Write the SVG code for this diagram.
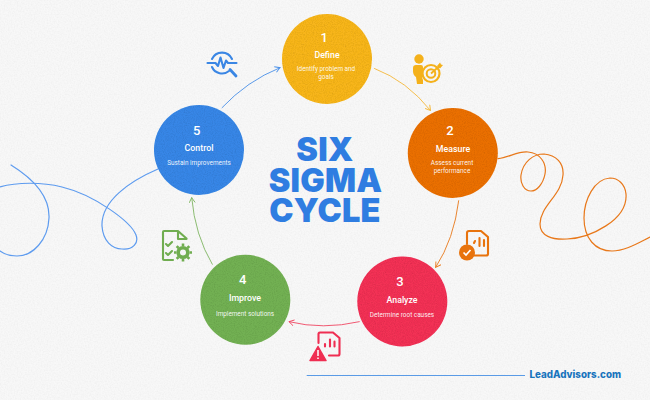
<svg xmlns="http://www.w3.org/2000/svg" width="650" height="400" viewBox="0 0 650 400">
<defs>
<style>
.num{font:500 13px Roboto,"Liberation Sans",sans-serif;fill:#fff;text-anchor:middle}
.name{font:500 8.800px Roboto,"Liberation Sans",sans-serif;fill:#fff;text-anchor:middle}
.desc{font:400 6.400px Roboto,"Liberation Sans",sans-serif;fill:#fff;text-anchor:middle;fill-opacity:.92}
.title{font:900 32.500px Inter,"Liberation Sans",sans-serif;fill:#2f7de1;text-anchor:middle;letter-spacing:.2px}
.c{fill:none;stroke-width:.9;stroke-linecap:round}
.sq{fill:none;stroke-width:1.200;stroke-linecap:round}
.ic{fill:none;stroke-width:2.100;stroke-linecap:round;stroke-linejoin:round}
</style>
<filter id="grain" x="0" y="0" width="100%" height="100%"><feTurbulence type="fractalNoise" baseFrequency="0.9" numOctaves="2" seed="4"/><feColorMatrix values="0 0 0 0 0 0 0 0 0 0 0 0 0 0 0 0 0 0 .4 -.17"/><feComposite in2="SourceGraphic" operator="in"/><feMerge><feMergeNode in="SourceGraphic"/><feMergeNode/></feMerge></filter>
<filter id="paper" x="0" y="0" width="100%" height="100%"><feTurbulence type="fractalNoise" baseFrequency="0.7" numOctaves="2" seed="9"/><feColorMatrix values="0 0 0 0 0 0 0 0 0 0 0 0 0 0 0 0 0 0 .12 -.04"/><feComposite in2="SourceGraphic" operator="in"/><feMerge><feMergeNode in="SourceGraphic"/><feMergeNode/></feMerge></filter>
<marker id="ay" markerWidth="8" markerHeight="8" refX="6" refY="3.5" orient="auto" markerUnits="userSpaceOnUse"><path d="M1,.5 L6,3.5 L1,6.5" fill="none" stroke="#f5b83a" stroke-width=".9"/></marker>
<marker id="ao" markerWidth="8" markerHeight="8" refX="6" refY="3.5" orient="auto" markerUnits="userSpaceOnUse"><path d="M1,.5 L6,3.5 L1,6.5" fill="none" stroke="#e8781a" stroke-width=".9"/></marker>
<marker id="ar" markerWidth="8" markerHeight="8" refX="6" refY="3.5" orient="auto" markerUnits="userSpaceOnUse"><path d="M1,.5 L6,3.5 L1,6.5" fill="none" stroke="#ef4763" stroke-width=".9"/></marker>
<marker id="ag" markerWidth="8" markerHeight="8" refX="6" refY="3.5" orient="auto" markerUnits="userSpaceOnUse"><path d="M1,.5 L6,3.5 L1,6.5" fill="none" stroke="#7fb562" stroke-width=".9"/></marker>
<marker id="ab" markerWidth="8" markerHeight="8" refX="6" refY="3.5" orient="auto" markerUnits="userSpaceOnUse"><path d="M1,.5 L6,3.5 L1,6.5" fill="none" stroke="#4a90e8" stroke-width=".9"/></marker>
</defs>
<rect width="650" height="400" fill="#f8f8f8" filter="url(#paper)"/>
<g id="squiggles">
<path class="sq" stroke="#5d9bef" d="M158,169 C130,181 101,201 102,226 C103,241 112,249 122,249 C133,250 139,243 136,235 C131,222 95,195 62,187 C42,182 17,182 0,187"/>
<path class="sq" stroke="#5d9bef" d="M11,165 C32,178 50,195 49,218 C48,240 33,256 17,256 C10,256 4,254 0,251"/>
<path class="sq" stroke="#e8781a" d="M498,158.700 C510,157 518,151 528,152 C540,153 547,163 545,174 C543,184 537,191 531,191 C524,191 520,183 521,175 C523,162 533,154 544,154 C556,155 564,163 563,175 C562,195 540,206 540,224 C540,236 552,240 567,239 C590,238 628,220 626,194 C625,184 618,178 610,178 C594,179 584,200 584,218 C584,238 595,251 612,251 C625,251 638,243 650,237"/>
</g>
<g id="connectors">
<path class="c" stroke="#f5b83a" marker-end="url(#ay)" d="M374.500,68.500 Q407,81 430.500,110.500"/>
<path class="c" stroke="#e8781a" marker-end="url(#ao)" d="M458.700,200.700 Q454,239 435.700,267.300"/>
<path class="c" stroke="#ef4763" marker-end="url(#ar)" d="M359.300,321.700 Q323,330 289,321.700"/>
<path class="c" stroke="#7fb562" marker-end="url(#ag)" d="M212.300,264.300 Q195,235 191.700,197.700"/>
<path class="c" stroke="#4a90e8" marker-end="url(#ab)" d="M222,107.700 Q247,81 280,67.700"/>
</g>
<g id="node-1"><circle cx="327" cy="59" r="45" fill="#f7b51e" filter="url(#grain)"/>
<text class="num" x="324.300" y="41.500">1</text><text class="name" x="327" y="57.800">Define</text><text class="desc" x="326" y="70.700">Identify problem and</text><text class="desc" x="326" y="78.500">goals</text></g>
<g id="node-2"><circle cx="452.800" cy="153" r="45" fill="#ea7000" filter="url(#grain)"/>
<text class="num" x="450" y="135">2</text><text class="name" x="453" y="151.800">Measure</text><text class="desc" x="452" y="165">Assess current</text><text class="desc" x="452" y="172.700">performance</text></g>
<g id="node-3"><circle cx="402.300" cy="301.500" r="45" fill="#f23055" filter="url(#grain)"/>
<text class="num" x="400" y="286">3</text><text class="name" x="402" y="303">Analyze</text><text class="desc" x="402" y="317">Determine root causes</text></g>
<g id="node-4"><circle cx="245.300" cy="299.800" r="45" fill="#72b052" filter="url(#grain)"/>
<text class="num" x="242.700" y="284">4</text><text class="name" x="245" y="301">Improve</text><text class="desc" x="245" y="315.500">Implement solutions</text></g>
<g id="node-5"><circle cx="199" cy="150" r="45" fill="#3786e6" filter="url(#grain)"/>
<text class="num" x="196.700" y="134.500">5</text><text class="name" x="199" y="151">Control</text><text class="desc" x="199" y="165">Sustain improvements</text></g>
<g id="title">
<text class="title" x="325" y="161">SIX</text>
<text class="title" x="325.500" y="191.700">SIGMA</text>
<text class="title" x="325" y="222.300">CYCLE</text>
</g>
<g id="icon-pulse" class="ic" stroke="#3a86e4">
<path d="M207.500,63 H215.500 L218,66 L220.500,57.500 L223.500,68 L226,60.500 L228,63 H236.500"/>
<path d="M212,59 A11,11 0 0 1 232,59"/><path d="M212,67 A11,11 0 0 0 229,71"/>
<path d="M230,69.500 L236,76" stroke-width="2.800"/>
</g>
<g id="icon-target">
<circle cx="419" cy="59" r="4.700" fill="#f4b11b"/>
<path d="M416,65 H421 Q423,65 423,67 V70 Q421,76 423,80 V84 H417 L416,77 Q413,75 413,71 V68 Q413,65 416,65 Z" fill="#f4b11b"/>
<g fill="none" stroke="#f4b11b"><circle cx="431" cy="73.500" r="8.500" stroke-width="2.200"/><circle cx="431" cy="73.500" r="4.300" stroke-width="2"/><path d="M431,73.500 L440,65.500" stroke-width="1.700"/></g>
<path d="M437,66 L440,62.500 L441,64.500 L443,65 L440,68.500 Z" fill="#f4b11b"/>
</g>
<g id="icon-doc-check">
<path class="ic" stroke="#e8730d" d="M467,244 V233 Q467,231 469,231 H481 L488,237 V254 Q488,255.500 486,255.500 H474"/>
<path class="ic" stroke="#e8730d" d="M474,243 L475,241 M479.500,246 V238 M484,246 V240"/>
<circle cx="467" cy="252.500" r="8" fill="#e8730d"/>
<path d="M463.500,252.500 L466,255 L470.500,250" fill="none" stroke="#fff" stroke-width="1.700"/>
</g>
<g id="icon-doc-warn">
<path class="ic" stroke="#ef2e52" d="M318.500,343 V334 Q318.500,332.500 320,332.500 H333 L339.500,338 V354 Q339.500,355.500 338,355.500 H329"/>
<path class="ic" stroke="#ef2e52" d="M325,346.500 V344 M330,346.500 V339.500 M334.500,346.500 V341.500"/>
<path d="M318,346.500 L326,360.500 H310 Z" fill="#ef2e52" stroke="#ef2e52" stroke-width="1.500" stroke-linejoin="round"/>
<path d="M318,350 V356 M318,357.500 V359" stroke="#fff" stroke-width="1.500"/>
</g>
<g id="icon-checklist">
<path class="ic" stroke="#70ad50" stroke-width="1.800" d="M173,260 H164 Q163,260 163,259 V232 Q163,231 164,231 H178 L186.500,238.500 V239 H178 V231"/>
<path class="ic" stroke="#70ad50" d="M166,244 L168,246 L172,242 M166,253 L168,255 L172,251"/>
<circle cx="183" cy="252.500" r="4.800" fill="none" stroke="#70ad50" stroke-width="3.600"/>
<path d="M183,243.500 V246 M183,259 V261.500 M174,252.500 H176.500 M189.500,252.500 H192 M176.700,246.200 L178.500,248 M187.500,257 L189.300,258.800 M176.700,258.800 L178.500,257 M187.500,248 L189.300,246.200" stroke="#70ad50" stroke-width="2.600"/>
</g>
<g id="brand">
<path d="M306.700,375.500 H525" stroke="#5a9be6" stroke-width="1.200"/>
<text x="529.500" y="377.500" font-family="Inter,'Liberation Sans',sans-serif" font-weight="800" font-size="9.800" textLength="91.500" lengthAdjust="spacingAndGlyphs" fill="#1874bd">LeadAdvisors.com</text>
</g>
</svg>
